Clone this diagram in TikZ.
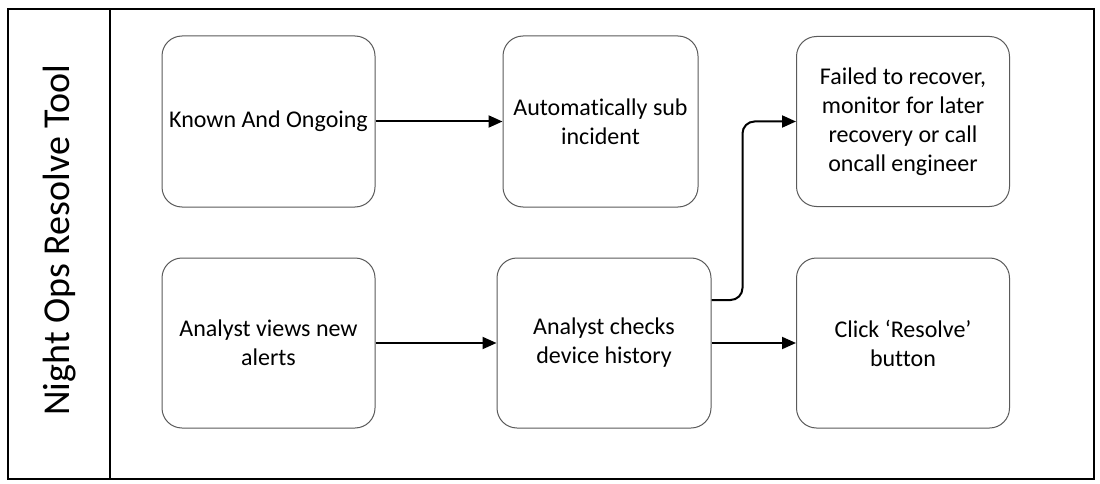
\documentclass[tikz,border=0pt]{standalone}
\usepackage{fontspec}
\setmainfont{Carlito}[Ligatures={NoCommon}]
\usetikzlibrary{arrows.meta,calc}
\definecolor{boxline}{HTML}{5A5A5A}
\begin{document}
\begin{tikzpicture}[x=1pt,y=-1pt,
  stepbox/.style={draw=boxline,line width=1pt,rounded corners=20pt,align=center,
    font=\fontsize{24}{29}\selectfont,inner sep=0pt},
  arr/.style={draw=black,line width=2pt,-{Triangle[length=14pt,width=12pt]}}]
\useasboundingbox (0,0) rectangle (1100,484);
\fill[white] (0,0) rectangle (1100,484);
\draw[line width=2.5pt] (8,9) rectangle (1094,479);
\draw[line width=2pt] (110,9) -- (110,479);
\node[rotate=90,font=\fontsize{38}{42}\selectfont] (title) at (60,240) {Night Ops Resolve Tool};
\node[stepbox,minimum width=213pt,minimum height=171pt] (b1) at (268.5,121.5) {Known And Ongoing};
\node[stepbox,minimum width=195pt,minimum height=171pt] (b2) at (600.5,121.5) {Automatically sub\\incident};
\node[stepbox,minimum width=213pt,minimum height=170pt] (b3) at (903,121.5) {Failed to recover,\\monitor for later\\recovery or call\\oncall engineer};
\node[stepbox,minimum width=213pt,minimum height=170pt] (b4) at (268.5,343) {Analyst views new\\alerts};
\node[stepbox,minimum width=214pt,minimum height=170pt] (b5) at (604,343) {Analyst checks\\device history};
\node[stepbox,minimum width=213pt,minimum height=170pt] (b6) at (903,343) {Click ‘Resolve’\\button};
\draw[arr] (b1) -- (b2);
\draw[arr] (b4) -- (b5);
\draw[arr] (b5) -- (b6);
\draw[arr,rounded corners=12pt] ([yshift=43pt]b5.east) -- ++(31,0) |- (b3.west);
\end{tikzpicture}
\end{document}
